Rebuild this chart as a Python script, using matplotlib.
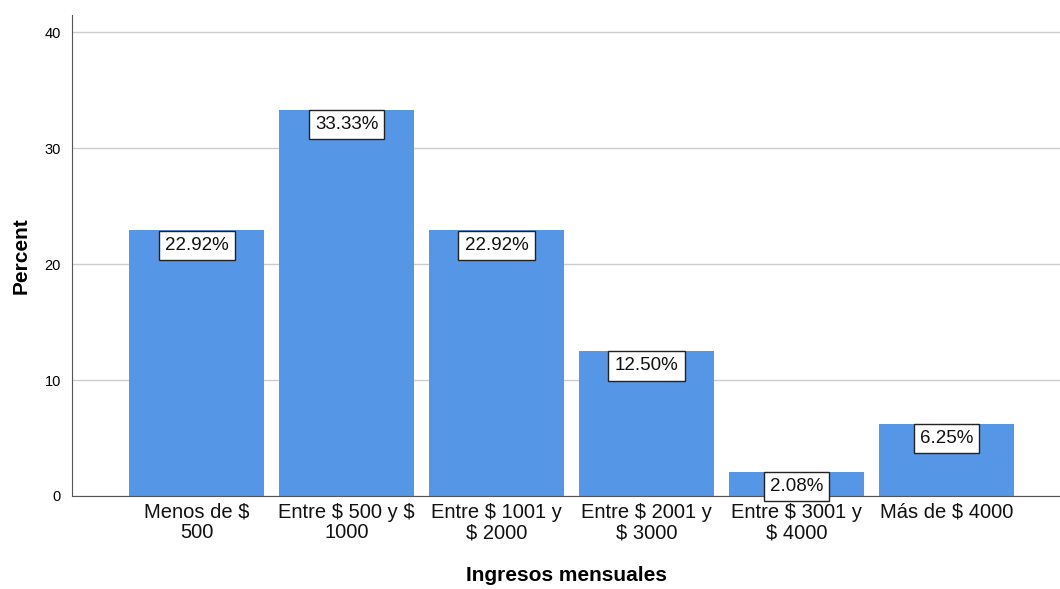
import matplotlib.pyplot as plt

plt.rcParams['font.family'] = ['Liberation Sans', 'DejaVu Sans']
plt.rcParams['text.parse_math'] = False

# data
categories = ['Menos de $\n500', 'Entre $ 500 y $\n1000', 'Entre $ 1001 y\n$ 2000',
              'Entre $ 2001 y\n$ 3000', 'Entre $ 3001 y\n$ 4000', 'Más de $ 4000']
percent = [22.92, 33.33, 22.92, 12.50, 2.08, 6.25]
y_ticks = [0, 10, 20, 30, 40]

fig = plt.figure(figsize=(10.6, 5.89), dpi=100)
ax = fig.add_axes([0.068, 0.158, 0.932, 0.8165])

x = list(range(len(categories)))
bars = ax.bar(x, percent, width=0.9, color='#5596e6', zorder=2)

for xi, v in zip(x, percent):
    ax.annotate('{:.2f}%'.format(v), (xi, v), xytext=(0, -4.6), textcoords='offset points',
                ha='center', va='top', fontsize=13.5, color='#111111', zorder=3,
                bbox=dict(boxstyle='square,pad=0.33', fc='white', ec='#222222', lw=1))

ax.set_xlim(-0.83, 5.757)
ax.set_ylim(0, 41.5)
ax.set_yticks(y_ticks)
ax.set_xticks(x)
ax.set_xticklabels(categories, fontsize=14.5, linespacing=1.1, color='#111111')
ax.tick_params(axis='y', length=0, pad=8, labelsize=10.5)
ax.tick_params(axis='x', length=0, pad=5)

ax.yaxis.grid(True, color='#cccccc', lw=1, zorder=0)
for s in ['top', 'right']:
    ax.spines[s].set_visible(False)
ax.spines['left'].set_color('#555555')
ax.spines['bottom'].set_color('#555555')

ax.set_ylabel('Percent', fontsize=15, fontweight='bold', labelpad=10)
ax.set_xlabel('Ingresos mensuales', fontsize=15, fontweight='bold', labelpad=17)

plt.savefig('out.png', dpi=100)
